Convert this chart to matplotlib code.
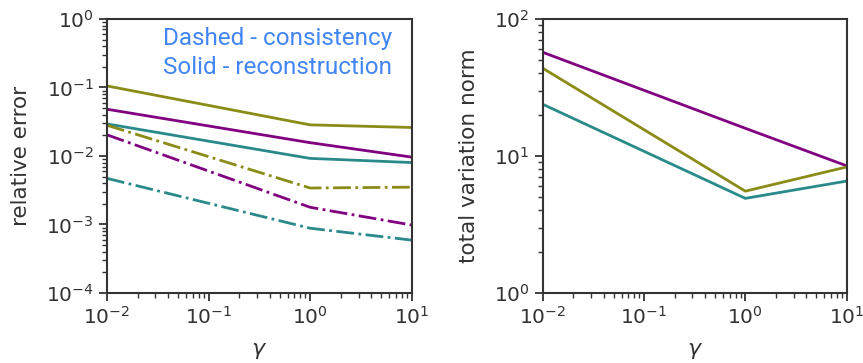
import matplotlib
matplotlib.use("Agg")
import matplotlib.pyplot as plt
import numpy as np

gamma = [0.01, 1.0, 10.0]

# left panel: relative error
recon_olive = [0.105, 0.0284, 0.026]
recon_purple = [0.048, 0.0156, 0.0096]
recon_teal = [0.0293, 0.0092, 0.0080]
cons_olive = [0.028, 0.0034, 0.0035]
cons_purple = [0.0203, 0.00178, 0.00098]
cons_teal = [0.0047, 0.00088, 0.00059]

# right panel: total variation norm
tv_purple = [57.0, 15.9, 8.47]
tv_olive = [43.6, 5.53, 8.3]
tv_teal = [23.8, 4.9, 6.55]

OLIVE = "#8b8b18"
PURPLE = "#800080"
TEAL = "#2a8a8a"
TXT = "#333333"

plt.rcParams.update({
    "font.family": "DejaVu Sans",
    "font.size": 14.5,
    "text.color": TXT,
    "axes.labelcolor": TXT,
    "xtick.color": TXT,
    "ytick.color": TXT,
    "axes.edgecolor": TXT,
    "axes.linewidth": 1.5,
    "xtick.major.width": 1.3,
    "ytick.major.width": 1.3,
    "xtick.minor.width": 1.0,
    "ytick.minor.width": 1.0,
    "xtick.major.size": 6,
    "ytick.major.size": 6,
    "xtick.minor.size": 3.5,
    "ytick.minor.size": 3.5,
})

fig = plt.figure(figsize=(8.63, 3.63), dpi=100)
ax1 = fig.add_axes([0.124, 0.193, 0.353, 0.755])
ax2 = fig.add_axes([0.629, 0.193, 0.352, 0.755])

lw = 2.0
ax1.plot(gamma, recon_olive, color=OLIVE, lw=lw)
ax1.plot(gamma, recon_purple, color=PURPLE, lw=lw)
ax1.plot(gamma, recon_teal, color=TEAL, lw=lw)
ax1.plot(gamma, cons_olive, color=OLIVE, lw=lw, ls="-.")
ax1.plot(gamma, cons_purple, color=PURPLE, lw=lw, ls="-.")
ax1.plot(gamma, cons_teal, color=TEAL, lw=lw, ls="-.")

ax2.plot(gamma, tv_purple, color=PURPLE, lw=lw)
ax2.plot(gamma, tv_olive, color=OLIVE, lw=lw)
ax2.plot(gamma, tv_teal, color=TEAL, lw=lw)

for ax in (ax1, ax2):
    ax.set_xscale("log")
    ax.set_yscale("log")
    ax.set_xlim(0.01, 10)
    ax.set_xlabel(r"$\gamma$", fontsize=16, labelpad=9)
    ax.tick_params(axis="both", which="major", labelsize=14.5)

ax1.set_ylim(1e-4, 1)
ax2.set_ylim(1, 100)
ax1.set_ylabel("relative error", fontsize=15.5, labelpad=11)
ax2.set_ylabel("total variation norm", fontsize=15.5, labelpad=11)

ax1.text(0.935, 0.927, "Dashed - consistency", transform=ax1.transAxes,
         ha="right", va="center", color="#4285f4", fontsize=17.5, family="Roboto")
ax1.text(0.935, 0.821, "Solid - reconstruction", transform=ax1.transAxes,
         ha="right", va="center", color="#4285f4", fontsize=17.5, family="Roboto")

fig.savefig("out.png", dpi=100)
